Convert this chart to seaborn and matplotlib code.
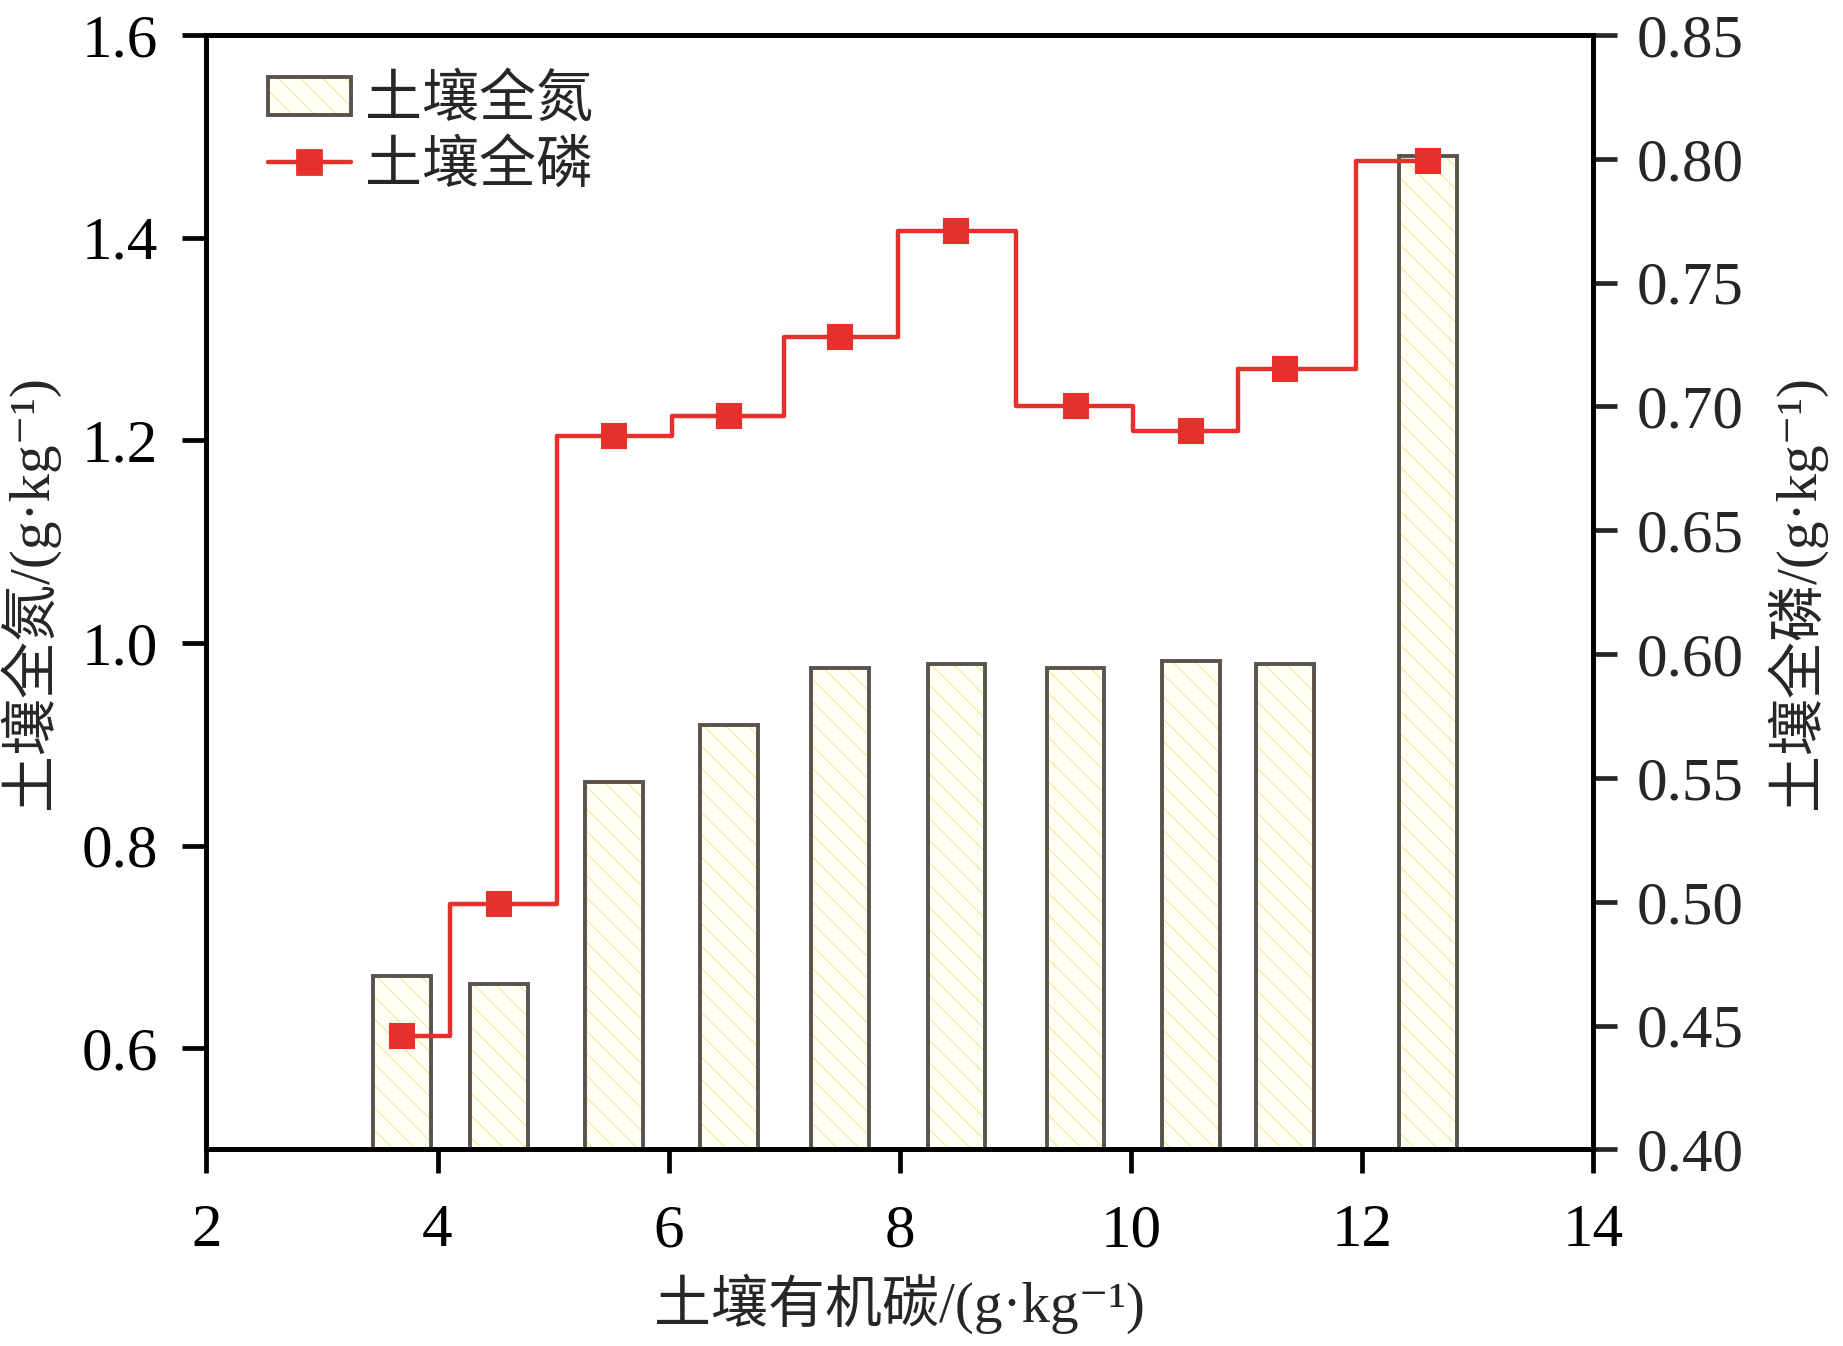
import matplotlib
matplotlib.use("Agg")
import matplotlib.pyplot as plt
import seaborn as sns
import pandas as pd
from matplotlib.patches import Patch
from matplotlib.lines import Line2D
from matplotlib.legend_handler import HandlerTuple

# ---- data ----
soc = [3.69, 4.53, 5.53, 6.52, 7.48, 8.49, 9.52, 10.52, 11.33, 12.57]          # 土壤有机碳
total_n = [0.671, 0.663, 0.863, 0.919, 0.975, 0.979, 0.975, 0.982, 0.979, 1.481]  # 土壤全氮
total_p = [0.446, 0.499, 0.688, 0.696, 0.728, 0.771, 0.700, 0.690, 0.715, 0.799]  # 土壤全磷
x_ticks = [2, 4, 6, 8, 10, 12, 14]
left_ticks = [0.6, 0.8, 1.0, 1.2, 1.4, 1.6]
right_ticks = [0.40, 0.45, 0.50, 0.55, 0.60, 0.65, 0.70, 0.75, 0.80, 0.85]
label_n = "土壤全氮"
label_p = "土壤全磷"
xlabel = "土壤有机碳/(g·kg⁻¹)"
ylabel_l = "土壤全氮/(g·kg⁻¹)"
ylabel_r = "土壤全磷/(g·kg⁻¹)"

df = pd.DataFrame({"soc": soc, "n": total_n, "p": total_p})

sns.set_style("ticks")
plt.rcParams["font.family"] = ["Liberation Serif", "Noto Sans CJK SC", "DejaVu Sans"]
plt.rcParams["hatch.linewidth"] = 0.5

FACE = "#FFFFF3"
HATCH = "#F0EBB4"
EDGE = "#58534d"
RED = "#E5302C"
FS = 22
FS_LAB = 20.5
BAR_W = 0.5

fig = plt.figure(figsize=(9.215, 6.73), dpi=200)
ax = fig.add_axes([0.112, 0.146, 0.7525, 0.828])

# hatched fill layer
sns.barplot(data=df, x="soc", y="n", native_scale=True, ax=ax, color=FACE,
            edgecolor=HATCH, linewidth=0, hatch="\\\\\\", saturation=1, zorder=2)
# outline layer
sns.barplot(data=df, x="soc", y="n", native_scale=True, ax=ax, color=EDGE,
            fill=False, linewidth=1.4, saturation=1, zorder=3)
for p in ax.patches:
    cx = p.get_x() + p.get_width() / 2
    p.set_width(BAR_W)
    p.set_x(cx - BAR_W / 2)

ax.set_xlim(2, 14)
ax.set_ylim(0.5, 1.6)
ax.set_xticks(x_ticks)
ax.set_xticklabels([str(t) for t in x_ticks])
ax.set_yticks(left_ticks)
ax.set_yticklabels([f"{t:.1f}" for t in left_ticks])
ax.set_xlabel(xlabel, fontsize=FS_LAB, labelpad=5)
ax.set_ylabel(ylabel_l, fontsize=FS_LAB, labelpad=8)

ax2 = ax.twinx()
sns.lineplot(data=df, x="soc", y="p", ax=ax2, color=RED, linewidth=1.6,
             drawstyle="steps-mid", marker="s", markersize=8.5,
             markeredgecolor=RED, markerfacecolor=RED, zorder=5)
ax2.set_ylim(0.40, 0.85)
ax2.set_yticks(right_ticks)
ax2.set_yticklabels([f"{t:.2f}" for t in right_ticks])
ax2.set_ylabel(ylabel_r, fontsize=FS_LAB, labelpad=8)
ax2.set_xlim(2, 14)

for a in (ax, ax2):
    for s in a.spines.values():
        s.set_linewidth(1.7)
        s.set_color("black")
ax.tick_params(axis="both", direction="out", length=8.5, width=1.7,
               labelsize=FS, top=False, right=False, colors="black")
ax.tick_params(axis="y", pad=9)
ax.tick_params(axis="x", pad=11)
ax2.tick_params(axis="y", direction="out", length=8.5, width=1.7,
                labelsize=FS, pad=7, right=True, left=False)

h_bar = (Patch(facecolor=FACE, edgecolor=HATCH, linewidth=0, hatch="\\\\\\"),
         Patch(fill=False, edgecolor=EDGE, linewidth=1.4))
h_line = Line2D([], [], color=RED, linewidth=1.6, marker="s", markersize=8.5,
                markerfacecolor=RED, markeredgecolor=RED)
ax2.legend([h_bar, h_line], [label_n, label_p],
           handler_map={tuple: HandlerTuple(ndivide=1, pad=0)},
           loc="upper left", bbox_to_anchor=(0.028, 0.985), frameon=False,
           fontsize=FS_LAB, handlelength=1.45, handleheight=0.65,
           handletextpad=0.25, labelspacing=0.2, borderaxespad=0)

fig.savefig("out.png", dpi=200)
